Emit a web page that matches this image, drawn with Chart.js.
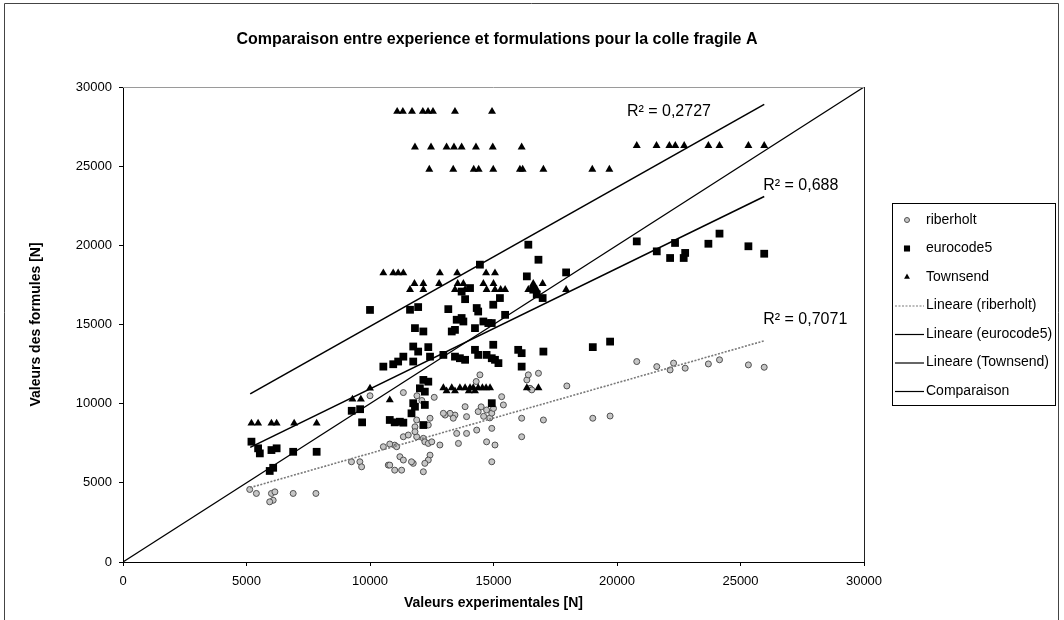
<!DOCTYPE html>
<html>
<head>
<meta charset="utf-8">
<title>Comparaison entre experience et formulations pour la colle fragile A</title>
<script src="https://cdn.jsdelivr.net/npm/chart.js@4.4.1/dist/chart.umd.min.js"></script>
<style>
  html, body { margin: 0; padding: 0; background: #fff; }
  #wrap { width: 1064px; height: 620px; position: relative; }
</style>
</head>
<body>
<div id="wrap"><canvas id="c" width="1064" height="620"></canvas></div>
<script>
// ---- Data (forces in N) ----
const xTickValues = [0, 5000, 10000, 15000, 20000, 25000, 30000];
const yTickValues = [0, 5000, 10000, 15000, 20000, 25000, 30000];

const riberholtX = [5130, 5400, 6010, 6150, 6080, 5940, 6890, 7810, 9250, 9590, 9660, 10540, 11000, 10740, 11000,
  10800, 11080, 11210, 11350, 11750, 11680, 12430, 12360, 12220, 11280, 10800, 12160, 11350, 11550, 11890, 12160,
  12220, 12360, 12500, 12830, 12430, 12360, 11890, 11820, 11820, 13440, 13370, 13240, 13040, 12970, 13910, 13850,
  14380, 14500, 14600, 14720, 14850, 14930, 15000, 15330, 15400, 14450, 13510, 13910, 14320, 14930, 13580, 14720,
  15060, 14930, 16140, 16140, 16350, 16480, 16410, 16820, 16550, 17970, 17020, 19020, 19720, 20800, 21610, 22150,
  22290, 22760, 23700, 24150, 25320, 25960, 10000, 11350, 11900, 12100, 12600, 14300];
const riberholtY = [4580, 4330, 4330, 4430, 3900, 3800, 4330, 4330, 6330, 6330, 6010, 7280, 7380, 6120, 5800,
  7450, 7280, 6650, 6440, 6230, 6330, 6750, 6440, 6230, 5800, 6120, 5700, 7910, 8020, 7910, 7810,
  7590, 7490, 7590, 7390, 9080, 8650, 8970, 8540, 8230, 9280, 9080, 9390, 9280, 9390, 9180, 9810,
  9500, 9800, 9200, 9600, 9100, 9400, 9700, 10440, 9920, 11820, 8120, 8120, 8330, 8440, 7490, 7590,
  7390, 6330, 9080, 7910, 11500, 10970, 11820, 11920, 10870, 11120, 8970, 9080, 9220, 12660, 12340, 12130,
  12560, 12240, 12510, 12770, 12450, 12300, 10500, 10700, 10500, 10200, 10400, 11400];

const eurocodeX = [5200, 5470, 5540, 6010, 6220, 6890, 7840, 5940, 6080, 9260, 9600, 9680, 10000, 10800, 11000,
  11210, 11350, 10540, 10940, 11140, 11350, 11620, 11950, 11820, 12160, 11750, 11950, 12360, 12430, 11750, 12970,
  13170, 13310, 13440, 13510, 13710, 13780, 13440, 13640, 13850, 14320, 14380, 14250, 14590, 14790, 14930, 14990,
  15260, 15470, 14250, 14380, 14720, 14930, 15060, 15200, 14990, 16000, 16140, 17020, 16140, 19020, 19720, 12160,
  12360, 12020, 12220, 11750, 11820, 12220, 11680, 12160, 14930, 14450, 16410, 16820, 16350, 17940, 16990, 13710,
  14050, 13850, 16610, 16750, 20800, 21610, 22150, 22350, 22700, 22760, 23700, 24150, 25320, 25960];
const eurocodeY = [7600, 7180, 6860, 7070, 7180, 6960, 6960, 5750, 5950, 9550, 9650, 8820, 15920, 8970, 8820,
  8860, 8800, 12340, 12490, 12660, 12970, 15930, 16100, 14770, 14560, 13610, 13290, 13570, 12970, 12660, 13080,
  15970, 14560, 14660, 15300, 15410, 15190, 12970, 12870, 12770, 16040, 15820, 14770, 15190, 15090, 15090, 16250,
  16670, 15610, 13400, 13080, 13080, 12870, 12770, 12560, 13720, 13400, 13190, 13290, 12340, 13570, 13920, 11500,
  11390, 10970, 10760, 10030, 9810, 9920, 9390, 8650, 10030, 18780, 20040, 19090, 18040, 18290, 16670, 17080,
  17300, 16600, 17200, 16900, 20250, 19620, 19200, 20150, 19200, 19520, 20100, 20740, 19940, 19470];

const townsendX = [11100, 11330, 11700, 12140, 12350, 12550, 13440, 14940,
  11820, 12470, 13100, 13400, 13710, 14290, 14970, 16140,
  20800, 21600, 22120, 22360, 22720, 23700, 24150, 25320, 25960,
  12400, 13370, 14200, 14400, 14990, 16070, 16180, 17020, 19000, 19690,
  10540, 10940, 11140, 11350, 12830, 13530, 14700, 15060,
  11800, 12160, 12800, 13550, 13780, 14590, 15000, 16610, 16990,
  11620, 12160, 13440, 13850, 14720, 15060, 15290, 15470, 16410, 16750, 17940,
  12970, 13310, 13640, 13850, 14050, 14180, 14380, 14550, 14700, 14860, 16350, 16820,
  13100, 13440, 14000, 14250,
  10800, 9290, 9630, 10000,
  5200, 5470, 6010, 6220, 6930, 7840];
const townsendY = [28450, 28450, 28450, 28450, 28450, 28450, 28450, 28450,
  26200, 26200, 26200, 26200, 26200, 26200, 26200, 26200,
  26300, 26300, 26300, 26300, 26300, 26300, 26300, 26300, 26300,
  24800, 24800, 24800, 24800, 24800, 24800, 24800, 24800, 24800, 24800,
  18250, 18250, 18250, 18250, 18250, 18250, 18250, 18250,
  17580, 17580, 17580, 17580, 17580, 17580, 17580, 17580, 17580,
  17200, 17200, 17200, 17200, 17200, 17200, 17200, 17200, 17200, 17200, 17200,
  11000, 11000, 11000, 11000, 11000, 11000, 11000, 11000, 11000, 11000, 11000, 11000,
  10800, 10800, 10800, 10800,
  10230, 10280, 10280, 10970,
  8760, 8760, 8760, 8760, 8760, 8760];

// Linear trend lines (start / end of the fitted segment)
const trendX = [5150, 25960];
const trendRiberholtY = [4700, 13970];
const trendEurocodeY = [7240, 23090];
const trendTownsendY = [10620, 28900];
const comparaisonX = [0, 30000];
const comparaisonY = [0, 30000];

const r2Labels = ['R² = 0,2727', 'R² = 0,688', 'R² = 0,7071'];

// ---- Chart ----
const FONT = "'Liberation Sans', Arial, Helvetica, sans-serif";
Chart.defaults.font.family = FONT;
Chart.defaults.color = '#000';

const pts = (xs, ys) => xs.map((x, i) => ({ x: x, y: ys[i] }));

const datasets = [
  { label: 'riberholt', type: 'scatter', data: pts(riberholtX, riberholtY),
    pointStyle: 'circle', pointRadius: 3, pointBorderWidth: 1,
    pointBorderColor: '#505050', pointBackgroundColor: '#c6c6c6', showLine: false, order: 5 },
  { label: 'eurocode5', type: 'scatter', data: pts(eurocodeX, eurocodeY),
    pointStyle: 'rect', pointRadius: 5.5, pointBorderWidth: 0,
    pointBorderColor: '#000', pointBackgroundColor: '#000', showLine: false, order: 4 },
  { label: 'Townsend', type: 'scatter', data: pts(townsendX, townsendY),
    pointStyle: 'triangle', pointRadius: 4.6, pointBorderWidth: 0,
    pointBorderColor: '#000', pointBackgroundColor: '#000', showLine: false, order: 3 },
  { label: 'Lineare (riberholt)', type: 'line', data: pts(trendX, trendRiberholtY),
    borderColor: '#7a7a7a', borderWidth: 1.6, borderDash: [2, 1.5], pointRadius: 0, fill: false, order: 1 },
  { label: 'Lineare (eurocode5)', type: 'line', data: pts(trendX, trendEurocodeY),
    borderColor: '#000', borderWidth: 1.6, pointRadius: 0, fill: false, order: 1 },
  { label: 'Lineare (Townsend)', type: 'line', data: pts(trendX, trendTownsendY),
    borderColor: '#000', borderWidth: 1.6, pointRadius: 0, fill: false, order: 1 },
  { label: 'Comparaison', type: 'line', data: pts(comparaisonX, comparaisonY),
    borderColor: '#000', borderWidth: 1.2, pointRadius: 0, fill: false, order: 1 }
];

// Texts, frame, R² labels and the boxed legend
const decorations = {
  id: 'decorations',
  afterDraw(chart) {
    const ctx = chart.ctx;
    const a = chart.chartArea;
    const xs = chart.scales.x, ys = chart.scales.y;
    ctx.save();

    // outer frame of the chart
    ctx.strokeStyle = '#444';
    ctx.lineWidth = 1;
    ctx.beginPath();
    ctx.moveTo(4.5, 625); ctx.lineTo(4.5, 3.5); ctx.lineTo(1058.5, 3.5); ctx.lineTo(1058.5, 625);
    ctx.stroke();

    // plot area top / right edges
    ctx.strokeStyle = '#9a9a9a';
    ctx.beginPath(); ctx.moveTo(a.left, a.top + 0.5); ctx.lineTo(a.right, a.top + 0.5); ctx.stroke();
    ctx.strokeStyle = '#222';
    ctx.beginPath(); ctx.moveTo(a.right + 0.5, a.top); ctx.lineTo(a.right + 0.5, a.bottom); ctx.stroke();

    // title
    ctx.fillStyle = '#000';
    ctx.textAlign = 'center';
    ctx.textBaseline = 'middle';
    ctx.font = 'bold 16px ' + FONT;
    ctx.fillText('Comparaison entre experience et formulations pour la colle fragile A', 497, 40);

    // axis titles
    ctx.font = 'bold 14px ' + FONT;
    ctx.fillText('Valeurs experimentales [N]', (a.left + a.right) / 2, 603);
    ctx.save();
    ctx.translate(36, (a.top + a.bottom) / 2);
    ctx.rotate(-Math.PI / 2);
    ctx.fillText('Valeurs des formules [N]', 0, 0);
    ctx.restore();

    // R² labels next to the trend lines
    ctx.font = '16px ' + FONT;
    ctx.textAlign = 'left';
    const r2At = [[20400, 28450], [25920, 23780], [25920, 15300]];
    r2Labels.forEach((t, i) => {
      ctx.fillText(t, xs.getPixelForValue(r2At[i][0]), ys.getPixelForValue(r2At[i][1]));
    });

    // legend box
    const lx = 892.5, ly = 203.5, lw = 163, lh = 202;
    ctx.strokeStyle = '#000';
    ctx.lineWidth = 1;
    ctx.strokeRect(lx, ly, lw, lh);
    ctx.font = '14px ' + FONT;
    ctx.textBaseline = 'middle';
    chart.data.datasets.forEach((ds, i) => {
      const y = 220 + i * 28.5;
      if (ds.type === 'scatter') {
        ctx.fillStyle = ds.pointBackgroundColor;
        ctx.strokeStyle = ds.pointBorderColor;
        ctx.lineWidth = ds.pointBorderWidth;
        const r = ds.pointStyle === 'circle' ? 2.5 : ds.pointRadius - 1.2;
        Chart.helpers.drawPoint(ctx, { pointStyle: ds.pointStyle, radius: r, rotation: 0, borderWidth: ds.pointBorderWidth }, 907, y);
      } else {
        ctx.strokeStyle = ds.borderColor;
        ctx.lineWidth = 1.2;
        ctx.setLineDash(ds.borderDash || []);
        ctx.beginPath(); ctx.moveTo(895, y + 0.5); ctx.lineTo(924, y + 0.5); ctx.stroke();
        ctx.setLineDash([]);
      }
      ctx.fillStyle = '#000';
      ctx.fillText(ds.label, 926, y);
    });

    ctx.restore();
  }
};

new Chart(document.getElementById('c'), {
  type: 'scatter',
  data: { datasets: datasets },
  options: {
    responsive: false,
    animation: false,
    devicePixelRatio: 1,
    layout: { padding: { left: 0, top: 87, right: 200, bottom: 0 } },
    plugins: { legend: { display: false }, title: { display: false }, tooltip: { enabled: false } },
    scales: {
      x: {
        type: 'linear', min: 0, max: 30000,
        afterBuildTicks: s => { s.ticks = xTickValues.map(v => ({ value: v })); },
        afterFit: s => { s.height = 58; },
        ticks: { color: '#000', font: { size: 13 }, padding: 8, maxRotation: 0, callback: v => String(v) },
        grid: { display: true, drawOnChartArea: false, drawTicks: true, tickLength: 4, color: '#000' },
        border: { display: true, color: '#000', width: 1 }
      },
      y: {
        type: 'linear', min: 0, max: 30000,
        afterBuildTicks: s => { s.ticks = yTickValues.map(v => ({ value: v })); },
        afterFit: s => { s.width = 123; },
        ticks: { color: '#000', font: { size: 13 }, padding: 7, callback: v => String(v) },
        grid: { display: true, drawOnChartArea: false, drawTicks: true, tickLength: 4, color: '#000' },
        border: { display: true, color: '#000', width: 1 }
      }
    }
  },
  plugins: [decorations]
});
</script>
</body>
</html>
